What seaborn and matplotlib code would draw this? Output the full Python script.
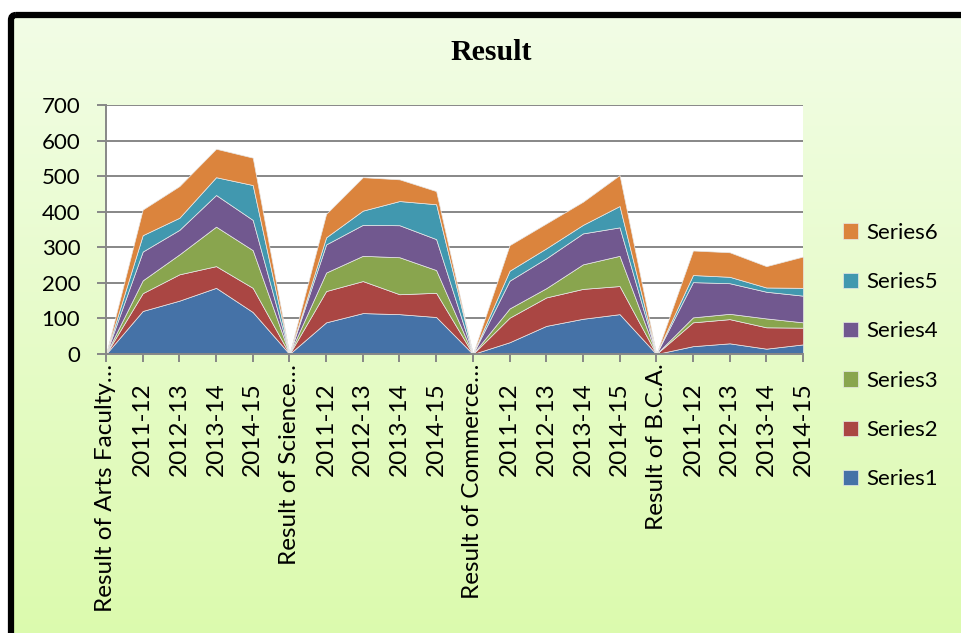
import numpy as np
import matplotlib.pyplot as plt
import matplotlib.patches as mpatches
import matplotlib.transforms as mtransforms
import seaborn as sns

# categories along the x axis (20 points, section headers carry zeros)
categories = [
    "Result of Arts Faculty…", "2011-12", "2012-13", "2013-14", "2014-15",
    "Result of Science…", "2011-12", "2012-13", "2013-14", "2014-15",
    "Result of Commerce…", "2011-12", "2012-13", "2013-14", "2014-15",
    "Result of B.C.A.", "2011-12", "2012-13", "2013-14", "2014-15",
]

series1 = [0, 121, 150, 186, 118, 0, 89, 115, 112, 104, 0, 33, 79, 99, 112, 0, 22, 30, 15, 27]
series2 = [0, 50, 74, 61, 68, 0, 88, 90, 56, 68, 0, 69, 80, 84, 79, 0, 67, 68, 60, 47]
series3 = [0, 36, 56, 111, 106, 0, 52, 71, 104, 64, 0, 26, 26, 69, 85, 0, 14, 15, 25, 15]
series4 = [0, 81, 69, 89, 85, 0, 79, 87, 90, 87, 0, 78, 84, 87, 80, 0, 99, 86, 75, 75]
series5 = [0, 46, 34, 50, 98, 0, 20, 40, 68, 98, 0, 28, 28, 24, 60, 0, 20, 18, 12, 22]
series6 = [0, 72, 89, 80, 77, 0, 66, 94, 61, 37, 0, 72, 70, 65, 87, 0, 69, 69, 60, 88]

series_names = ["Series1", "Series2", "Series3", "Series4", "Series5", "Series6"]
series_colors = ["#4572A7", "#AA4643", "#89A54E", "#71588F", "#4198AF", "#DB843D"]

sns.set_theme(style="white")
plt.rcParams["font.family"] = ["Lato", "DejaVu Sans"]
plt.rcParams["text.color"] = "black"

W, H = 961, 633
fig = plt.figure(figsize=(W / 100, H / 100), dpi=100)
fig.patch.set_facecolor("white")

# background panel: soft green gradient inside a black rounded frame
bg = fig.add_axes([0, 0, 1, 1], zorder=-10)
bg.set_xlim(0, W)
bg.set_ylim(H, 0)
bg.axis("off")
top_rgb = np.array([0xF2, 0xFD, 0xE6]) / 255
bot_rgb = np.array([0xDB, 0xFA, 0xAC]) / 255
t = np.linspace(0, 1, 256)[:, None, None]
grad = top_rgb * (1 - t) + bot_rgb * t
grad = np.repeat(grad, 2, axis=1)
bg.imshow(grad, extent=(10, W + 20, H + 20, 14), aspect="auto", interpolation="bilinear")
frame = mpatches.FancyBboxPatch(
    (11, 15), 1100, 800, boxstyle="round,pad=0,rounding_size=5",
    facecolor="none", edgecolor="black", linewidth=4.5,
)
bg.add_patch(frame)

# main plot area
ax = fig.add_axes([106 / W, 1 - 354 / H, (803 - 106) / W, (354 - 105) / H])
ax.set_facecolor("white")
x = np.arange(len(categories))
polys = ax.stackplot(
    x, series1, series2, series3, series4, series5, series6,
    colors=series_colors, labels=series_names,
    edgecolor="#e8e8e8", linewidth=0.5, zorder=3,
)

ax.set_xlim(0, len(categories) - 1)
ax.set_ylim(0, 700)
ax.set_yticks(range(0, 701, 100))
ax.set_xticks(x)
ax.set_xticklabels(categories, rotation=90, ha="center", va="top")

grid_col = "#878787"
ax.yaxis.grid(True, color=grid_col, linewidth=1.4, zorder=1)
ax.xaxis.grid(False)
for side in ["top", "right"]:
    ax.spines[side].set_visible(False)
for side in ["left", "bottom"]:
    ax.spines[side].set_color(grid_col)
    ax.spines[side].set_linewidth(1.4)
    ax.spines[side].set_zorder(4)

ax.tick_params(axis="y", which="major", left=True, length=6.5, width=1.4,
               color=grid_col, pad=12, labelsize=16, labelcolor="black")
ax.tick_params(axis="x", which="major", bottom=True, length=6, width=1.4,
               color=grid_col, pad=1, labelsize=17.5, labelcolor="black")

# year labels sit a little lower than the truncated section labels
shift = mtransforms.ScaledTranslation(0, -13 / 72, fig.dpi_scale_trans)
for lab in ax.get_xticklabels():
    if not lab.get_text().startswith("Result"):
        lab.set_transform(lab.get_transform() + shift)

handles, labels = ax.get_legend_handles_labels()
ax.legend(
    handles[::-1], labels[::-1],
    loc="center left", bbox_to_anchor=(843 / W, 1 - 356 / H),
    bbox_transform=fig.transFigure, frameon=False, fontsize=16,
    handlelength=0.68, handleheight=0.68, handletextpad=0.35,
    labelspacing=1.32, borderpad=0, borderaxespad=0,
)

fig.text(491 / W, 1 - 53 / H, "Result", ha="center", va="center", color="black",
         fontsize=21.5, fontweight="bold", family=["Liberation Serif", "DejaVu Serif"])

fig.savefig("out.png", dpi=100)
